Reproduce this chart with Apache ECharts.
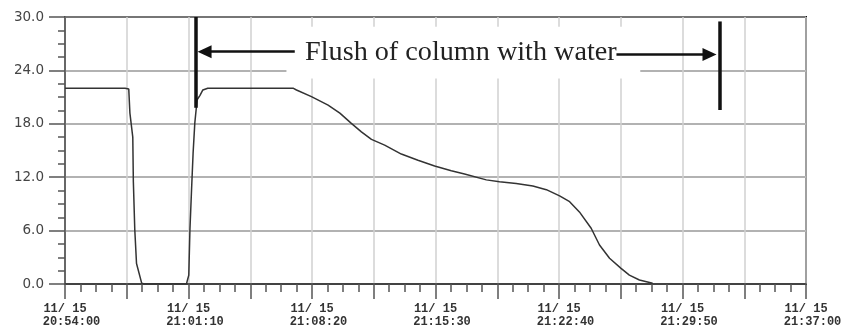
<!DOCTYPE html>
<html>
<head>
<meta charset="utf-8">
<script src="https://cdn.jsdelivr.net/npm/echarts@6/dist/echarts.min.js"></script>
<style>
  html, body { margin: 0; padding: 0; background: #fff; }
  #chart { width: 843px; height: 329px; }
</style>
</head>
<body>
<div id="chart"></div>
<script>
// trace (clock time, reading)
const times = ['20:54:00','20:57:29','20:57:32','20:57:42','20:57:46','20:57:56','20:57:58','20:58:03','20:58:09','20:58:27',
  '20:58:36','21:01:03','21:01:06','21:01:11','21:01:15','21:01:21','21:01:26','21:01:32','21:01:40','21:01:50',
  '21:02:00','21:02:17','21:07:14','21:07:26','21:08:18','21:09:16','21:09:57','21:10:37','21:11:12','21:11:47',
  '21:12:33','21:13:31','21:14:29','21:15:27','21:16:25','21:17:11','21:18:27','21:19:13','21:20:11','21:21:09',
  '21:21:56','21:22:42','21:23:17','21:23:51','21:24:32','21:25:01','21:25:36','21:26:16','21:26:45','21:27:20',
  '21:28:06'];
const values = [22.0,22.0,21.8,21.9,19.2,16.5,11.5,6.1,2.3,0.1,
  0,0,0.4,1.0,6.1,10.9,14.7,18.1,20.7,21.2,
  21.8,22.0,22.0,21.8,21.05,20.1,19.2,18.05,17.1,16.25,
  15.6,14.6,13.9,13.26,12.73,12.36,11.7,11.5,11.3,11.0,
  10.6,9.9,9.25,8.1,6.26,4.38,2.9,1.76,1.0,0.45,
  0.08];

const axisStart = '20:54:00';
const axisEnd = '21:37:00';
const dateLabel = '11/ 15';
const gridStep = 215;   // seconds between grid lines
const labelStep = 430;  // seconds between time labels
const yTicks = [0, 30, 6];

// annotation: flush markers, arrows and caption
const flushLabel = 'Flush of column with water';
const flushStart = '21:01:35';
const flushEnd = '21:31:58';
const flushBars = [[30, 19.8], [29.5, 19.55]];
const arrowLeft = ['21:07:20', '21:02:06', 26.1];
const arrowRight = ['21:26:00', '21:31:24', 25.8];
const captionBox = ['21:06:51', '21:27:23', 23.1, 28.9];

function toSec(s) {
  const p = s.split(':').map(Number);
  return p[0] * 3600 + p[1] * 60 + p[2];
}
const t0 = toSec(axisStart);
const rel = s => toSec(s) - t0;
function clock(v) {
  const s = t0 + v;
  const pad = n => String(n).padStart(2, '0');
  return pad(Math.floor(s / 3600)) + ':' + pad(Math.floor(s / 60) % 60) + ':' + pad(s % 60);
}

const chart = echarts.init(document.getElementById('chart'));
chart.setOption({
  animation: false,
  backgroundColor: '#fff',
  grid: { left: 65, right: 37, top: 17, bottom: 45, show: true, borderColor: '#111', borderWidth: 2, outerBoundsMode: 'none' },
  xAxis: {
    type: 'value',
    min: 0, max: rel(axisEnd), interval: gridStep,
    axisLine: { lineStyle: { color: '#333', width: 1.5 } },
    axisTick: { length: 15, lineStyle: { color: '#555', width: 1.5 } },
    minorTick: { show: true, splitNumber: 4, length: 8, lineStyle: { color: '#555', width: 1.5 } },
    splitLine: { lineStyle: { color: '#d0d0d0', width: 1.5 } },
    axisLabel: {
      margin: 18,
      formatter: v => v % labelStep === 0 ? `{a|${dateLabel}}\n{b|${clock(v)}}` : '',
      rich: {
        a: { fontFamily: 'Liberation Mono', fontWeight: 'bold', fontSize: 12, color: '#333', lineHeight: 13 },
        b: { fontFamily: 'Liberation Mono', fontWeight: 'bold', fontSize: 12, color: '#333', lineHeight: 13, padding: [0, 0, 0, 13] }
      }
    }
  },
  yAxis: {
    type: 'value',
    min: yTicks[0], max: yTicks[1], interval: yTicks[2],
    axisLine: { show: true, lineStyle: { color: '#555', width: 1.5 } },
    axisTick: { show: true, length: 16, lineStyle: { color: '#555', width: 1.5 } },
    minorTick: { show: true, splitNumber: 4, length: 7, lineStyle: { color: '#555', width: 1.5 } },
    splitLine: { lineStyle: { color: '#999', width: 1.5 } },
    axisLabel: {
      margin: 21, padding: [4, 0, 0, 0],
      fontFamily: 'DejaVu Sans', fontSize: 13.5, color: '#444',
      formatter: v => v.toFixed(1)
    }
  },
  series: [
    {
      type: 'line', z: 1, data: [], silent: true,
      markArea: {
        silent: true,
        itemStyle: { color: '#fff', opacity: 1, borderWidth: 0 },
        label: {
          show: true, position: 'inside', formatter: flushLabel, offset: [-2.5, 0],
          fontFamily: 'Liberation Serif', fontSize: 28.2, color: '#222'
        },
        data: [[
          { coord: [rel(captionBox[0]), captionBox[2]] },
          { coord: [rel(captionBox[1]), captionBox[3]] }
        ]]
      }
    },
    {
      type: 'line', z: 3,
      data: times.map((t, i) => [rel(t), values[i]]),
      showSymbol: false, silent: true,
      lineStyle: { color: '#333', width: 1.5 },
      markLine: {
        silent: true,
        symbol: ['none', 'none'],
        label: { show: false },
        data: [
          [{ coord: [rel(flushStart), flushBars[0][0]], lineStyle: { color: '#111', width: 3.5, type: 'solid' } },
           { coord: [rel(flushStart), flushBars[0][1]] }],
          [{ coord: [rel(flushEnd), flushBars[1][0]], lineStyle: { color: '#111', width: 3.5, type: 'solid' } },
           { coord: [rel(flushEnd), flushBars[1][1]] }],
          [{ coord: [rel(arrowLeft[0]), arrowLeft[2]], symbol: 'none', lineStyle: { color: '#111', width: 2.5, type: 'solid' } },
           { coord: [rel(arrowLeft[1]), arrowLeft[2]], symbol: 'triangle', symbolSize: [13, 14] }],
          [{ coord: [rel(arrowRight[0]), arrowRight[2]], symbol: 'none', lineStyle: { color: '#111', width: 2.5, type: 'solid' } },
           { coord: [rel(arrowRight[1]), arrowRight[2]], symbol: 'triangle', symbolSize: [13, 14] }]
        ]
      }
    }
  ]
});
</script>
</body>
</html>
